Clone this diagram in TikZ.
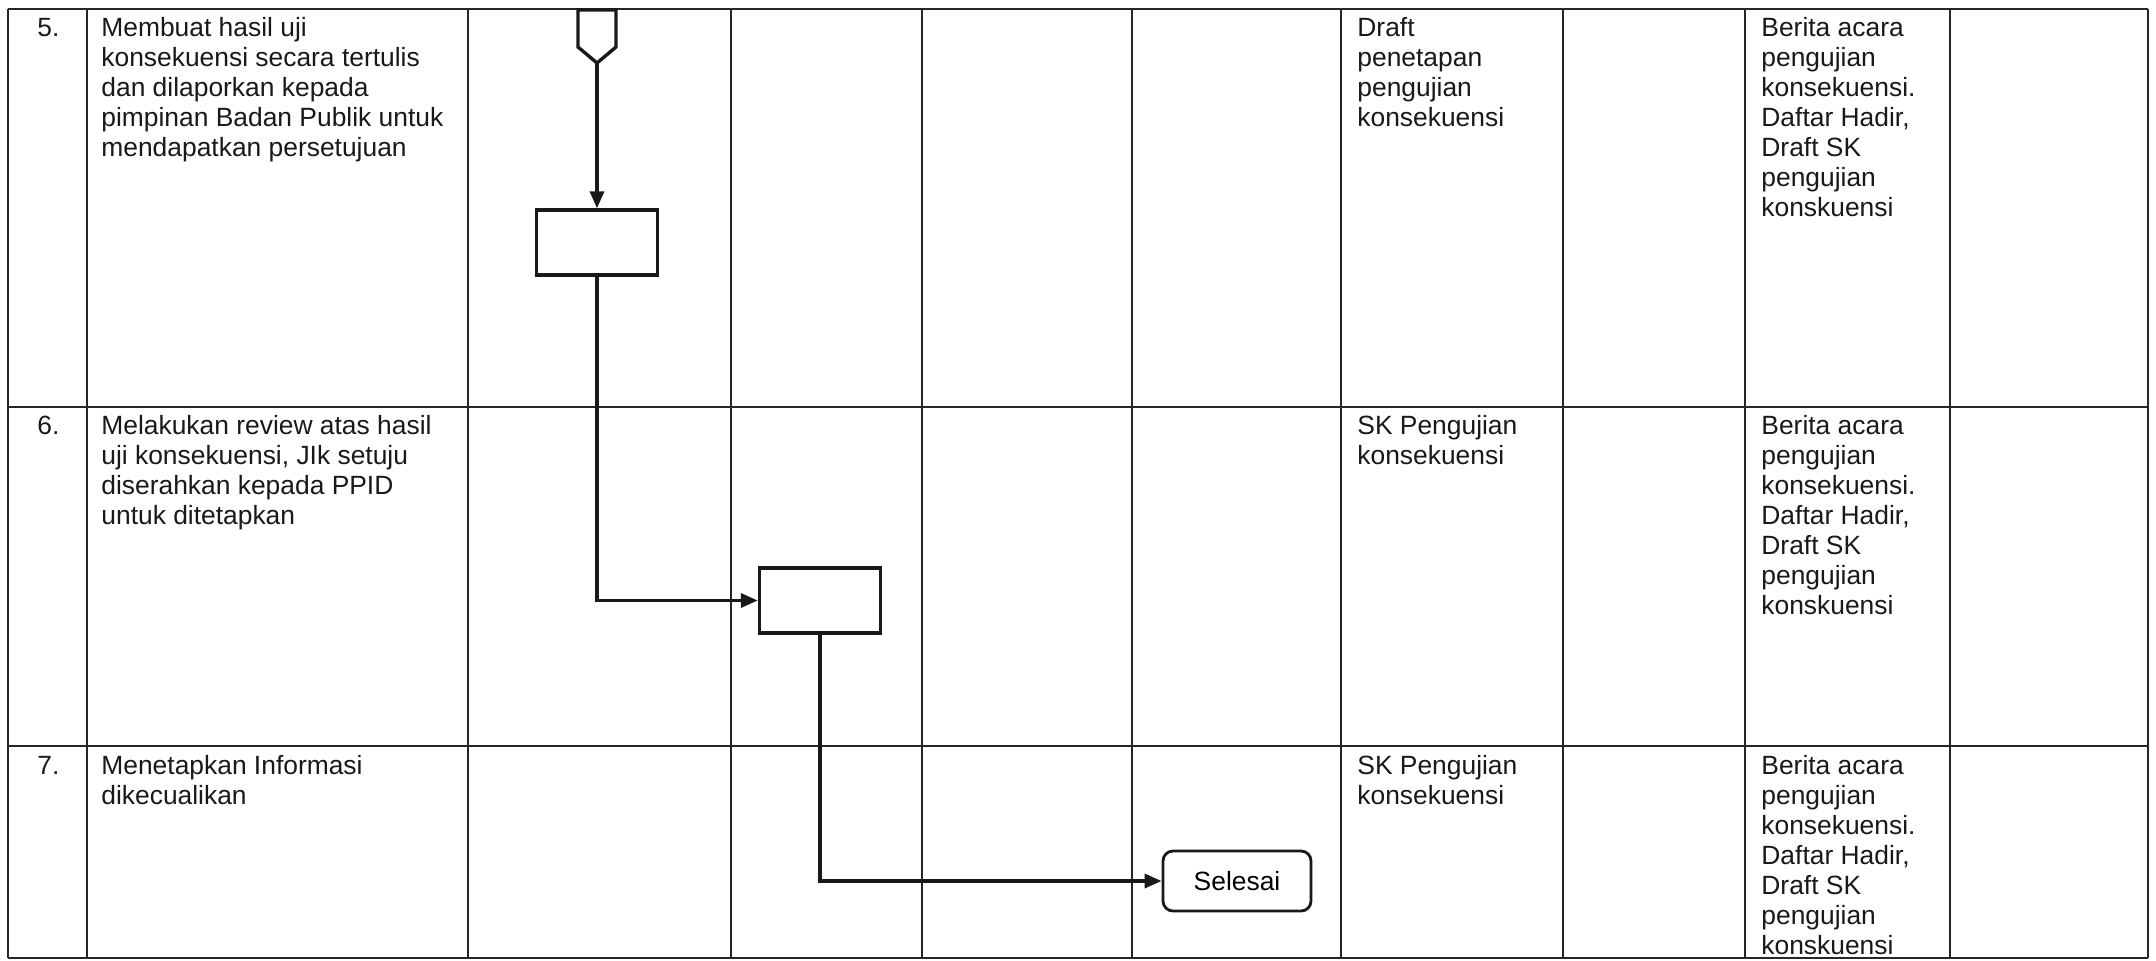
\documentclass[tikz,border=0pt]{standalone}
\usepackage{fontspec}
\setmainfont{Liberation Sans}
\usetikzlibrary{arrows.meta}
\newcommand\celltxt{\fontsize{13.2pt}{15pt}\selectfont}
\begin{document}
\begin{tikzpicture}[x=0.5pt,y=-0.5pt,
  grid/.style={line width=1pt, draw=black!85},
  flow/.style={line width=1.7pt, draw=black!90, -{Triangle[length=8.5pt,width=7pt]}},
  procbox/.style={draw=black!90, line width=1.7pt, minimum width=60.5pt, minimum height=32.5pt, inner sep=0pt},
  endbox/.style={draw=black!90, line width=1.4pt, rounded corners=5pt, minimum width=74pt, minimum height=30pt, inner sep=0pt, font=\celltxt},
  cell/.style={anchor=north west, inner sep=0pt, align=left, font=\celltxt, text=black!90},
  num/.style={anchor=north west, inner sep=0pt, font=\celltxt, text=black!90}]
\fill[white] (0,0) rectangle (2156,960);
\useasboundingbox (0,0) rectangle (2156,960);
% table grid
\foreach \x in {8,87,468,731,922,1132,1341,1563,1745,1950,2148}
  \draw[grid] (\x,9) -- (\x,958);
\foreach \y in {9,407,746,958}
  \draw[grid] (8,\y) -- (2148,\y);
% row 5 (first baseline at 36; strut height 21)
\node[num] (n5) at (37,15) {\strut 5.};
\node[cell] (t5) at (101,15) {\strut Membuat hasil uji\\konsekuensi secara tertulis\\dan dilaporkan kepada\\pimpinan Badan Publik untuk\\mendapatkan persetujuan};
\node[cell] (d5) at (1357,15) {\strut Draft\\penetapan\\pengujian\\konsekuensi};
\node[cell] (b5) at (1761,15) {\strut Berita acara\\pengujian\\konsekuensi.\\Daftar Hadir,\\Draft SK\\pengujian\\konskuensi};
% row 6
\node[num] (n6) at (37,413) {\strut 6.};
\node[cell] (t6) at (101,413) {\strut Melakukan review atas hasil\\uji konsekuensi, JIk setuju\\diserahkan kepada PPID\\untuk ditetapkan};
\node[cell] (d6) at (1357,413) {\strut SK Pengujian\\konsekuensi};
\node[cell] (b6) at (1761,413) {\strut Berita acara\\pengujian\\konsekuensi.\\Daftar Hadir,\\Draft SK\\pengujian\\konskuensi};
% row 7
\node[num] (n7) at (37,753) {\strut 7.};
\node[cell] (t7) at (101,753) {\strut Menetapkan Informasi\\dikecualikan};
\node[cell] (d7) at (1357,753) {\strut SK Pengujian\\konsekuensi};
\node[cell] (b7) at (1761,753) {\strut Berita acara\\pengujian\\konsekuensi.\\Daftar Hadir,\\Draft SK\\pengujian\\konskuensi};
% flowchart
\draw[line width=1.7pt, draw=black!90, fill=white] (578,10) -- (578,47) -- (597,63) -- (616,47) -- (616,10) -- cycle;
\coordinate (ptip) at (597,63);
\node[procbox] (box1) at (597,242.5) {};
\node[procbox] (box2) at (820,600.5) {};
\node[endbox] (sel) at (1237,881) {Selesai};
\draw[flow] (ptip) -- (box1.north);
\draw[flow] (box1.south) |- (box2.west);
\draw[flow] (box2.south) |- (sel.west);
\end{tikzpicture}
\end{document}
